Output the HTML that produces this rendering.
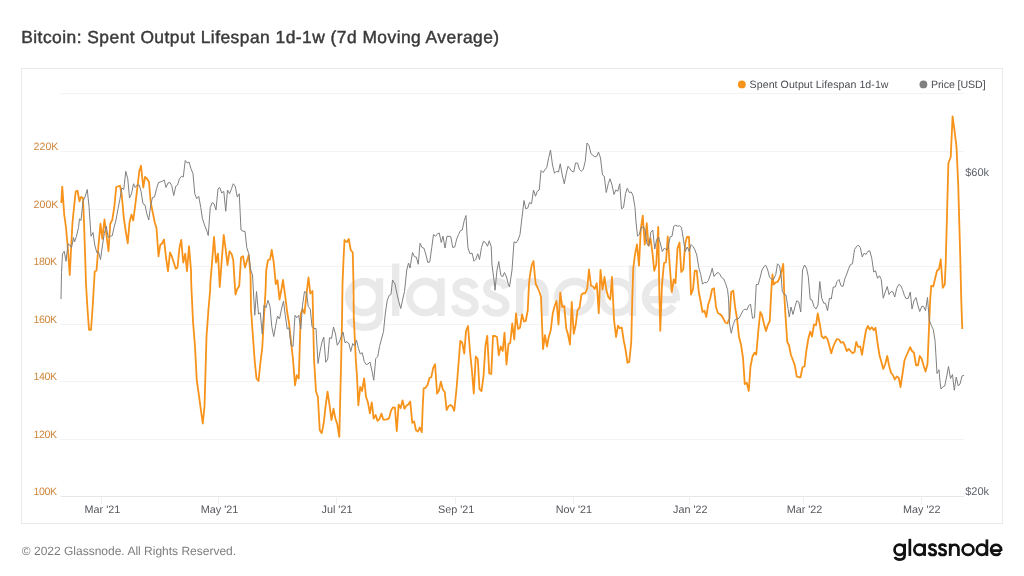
<!DOCTYPE html>
<html><head><meta charset="utf-8"><title>Bitcoin: Spent Output Lifespan 1d-1w</title>
<style>
html,body{margin:0;padding:0;background:#fff;}
body{width:1024px;height:576px;position:relative;overflow:hidden;font-family:"Liberation Sans",sans-serif;}
svg{position:absolute;left:0;top:0;font-family:"Liberation Sans",sans-serif;will-change:transform;}
text{text-rendering:geometricPrecision;}
.title{font-size:17.4px;fill:#3a3a3a;letter-spacing:0.47px;stroke:#3a3a3a;stroke-width:0.45px;}
.yl{font-size:10.6px;fill:#cf873c;}
.yr{font-size:11px;fill:#60636c;}
.xl{font-size:10.8px;fill:#54565c;text-anchor:middle;}
.lg{font-size:10.6px;fill:#4a4c52;}
.foot{font-size:12px;fill:#7c7c7c;}
</style></head><body>
<svg width="1024" height="576" viewBox="0 0 1024 576">
 <rect x="21.5" y="68.5" width="981" height="455" fill="#fff" stroke="#e9e9e9" stroke-width="1"/>
 <g stroke="#f3f3f3" stroke-width="1"><line x1="60.5" x2="964" y1="93.5" y2="93.5"/><line x1="60.5" x2="964" y1="151.5" y2="151.5"/><line x1="60.5" x2="964" y1="209.5" y2="209.5"/><line x1="60.5" x2="964" y1="266.5" y2="266.5"/><line x1="60.5" x2="964" y1="324.5" y2="324.5"/><line x1="60.5" x2="964" y1="381.5" y2="381.5"/><line x1="60.5" x2="964" y1="439.5" y2="439.5"/></g>
 <g stroke="#e6e6e6" stroke-width="1"><line x1="60.5" x2="964" y1="496.5" y2="496.5"/></g>
 <g stroke="#efefef" stroke-width="1"><line x1="101.5" x2="101.5" y1="496.5" y2="504.0"/><line x1="218.5" x2="218.5" y1="496.5" y2="504.0"/><line x1="336.5" x2="336.5" y1="496.5" y2="504.0"/><line x1="455.5" x2="455.5" y1="496.5" y2="504.0"/><line x1="573.5" x2="573.5" y1="496.5" y2="504.0"/><line x1="689.5" x2="689.5" y1="496.5" y2="504.0"/><line x1="803.5" x2="803.5" y1="496.5" y2="504.0"/><line x1="921.5" x2="921.5" y1="496.5" y2="504.0"/></g>
 <g stroke="#e9e9e9" stroke-width="7.3">
<g fill="none" stroke-linecap="butt">
 <ellipse cx="364" cy="297.1" rx="15.5" ry="15.6"/>
 <path d="M379.6,278.3 V314 Q379.6,327.3 364.5,327.3 Q353,327.3 349.3,319.3"/>
 <path d="M395.7,263.5 V316"/>
 <ellipse cx="425.2" cy="297.1" rx="15.7" ry="15.6"/>
 <path d="M441,278.3 V316"/>
 <path transform="translate(1,0)" d="M474.2,288.2 C472.5,283.2 468.5,281.3 464,281.3 C458.5,281.3 455,284.2 455,288.3 C455,293.3 459.5,294.8 464.5,296.4 C469.8,298.1 474.2,300.2 474.2,305.4 C474.2,310.2 470,313.2 464.3,313.2 C458.8,313.2 454.6,310.3 453.4,305.2"/>
 <path transform="translate(31.8,0)" d="M474.2,288.2 C472.5,283.2 468.5,281.3 464,281.3 C458.5,281.3 455,284.2 455,288.3 C455,293.3 459.5,294.8 464.5,296.4 C469.8,298.1 474.2,300.2 474.2,305.4 C474.2,310.2 470,313.2 464.3,313.2 C458.8,313.2 454.6,310.3 453.4,305.2"/>
 <path d="M519.7,278.3 V316"/>
 <path d="M519.7,297 C519.7,286.5 524.5,281.6 532.6,281.6 C540.5,281.6 545,286.3 545,295 V316"/>
 <ellipse cx="574.5" cy="297.1" rx="16.8" ry="15.6"/>
 <ellipse cx="616.9" cy="297.1" rx="15.5" ry="15.6"/>
 <path d="M632.5,265.2 V316"/>
 <path d="M645.6,299.7 H676.2 M676.2,300.8 V297.1 A15.4,15.6 0 1 0 673.6,306"/>
</g></g>
 <path d="M61.3,203 L62.25,186.62 L64.25,215 L66,227.5 L68,250 L69.75,275 L71,250 L72.5,222.5 L74.25,205 L75.75,191.25 L77.5,190.75 L79.5,201.25 L81,197 L83,198 L84,222.5 L85.25,260 L86,284 L87.5,309 L89,329.75 L91,329.75 L92.5,309 L94,284 L94.75,271.25 L96.5,270.75 L98.5,245 L100.5,223.75 L102.25,238.75 L104.5,219.5 L106.75,237.5 L108.5,251.25 L110.25,223.75 L112.25,220 L114.25,207.5 L116.25,187 L120,185.75 L121.75,195 L123.75,217.5 L125.75,231.25 L127.75,243.25 L129.5,222.5 L131.5,214.5 L133.25,220.5 L135.25,205 L137.25,188.75 L139.25,171.25 L141,165.75 L143.25,187.5 L145,177 L147,178.75 L149,182 L150.75,202.5 L152.75,212.5 L154.75,222.5 L156.5,228 L158.5,256.25 L160.25,245 L162.25,243.25 L164,239.5 L166,257.5 L168,271.25 L170,252.5 L171.75,256.25 L173.75,262.5 L175.75,268.75 L177.5,267.5 L179.5,247.5 L181.25,240 L183.25,262.5 L185.25,253.75 L187,271.25 L189,246.25 L191,270 L191.25,284 L193,321.5 L195,346.5 L196.75,380.25 L198.75,394 L200.75,409 L202.75,423.5 L204.5,406.5 L205.5,371.5 L206.5,336.5 L208.5,309 L210.25,289 L210.25,284 L212.25,260 L214,237 L216,262.5 L218,253.75 L219.75,287 L221.75,260 L223.75,235 L225.75,250 L227.5,265 L229.5,251.25 L231.5,253.75 L233.25,260 L234.75,284 L235.5,294.5 L237.25,289 L239.25,286 L241,257.5 L243,256.25 L245,267.5 L248.75,255 L250.5,275 L251,309 L252.75,334 L254.75,361.5 L256.5,378.5 L258.5,381 L260.25,364 L262.25,347.75 L264,316.5 L265.5,291.5 L266.25,270 L268,260 L270,259.5 L271.75,250 L273.75,262.5 L275.75,284 L277.5,280.25 L279.5,299.5 L281.5,289 L283,280 L285.25,296.5 L287.25,312.75 L289,322.75 L291,341.5 L293,359 L295,385.25 L296.75,375.25 L298.75,378.5 L299.75,346.5 L300.75,314 L302.5,309 L304.5,313.5 L306.5,294 L308.5,277.5 L310.25,293.5 L312.5,291 L314,359 L316,391.5 L317.88,396.72 L319.75,430.31 L321.78,433.12 L323.81,422.5 L325.69,405.31 L327.56,391.72 L329.59,405.31 L331.47,420.16 L333.5,408.75 L335.38,418.59 L337.25,424.06 L339.28,436.88 L340.22,399.06 L341.16,360 L342,321.5 L342.5,284 L343.5,260 L344.5,240 L345.5,241.25 L347,242 L348.75,239 L350.75,250 L352.75,252.5 L353.5,284 L353.75,316.5 L355.84,360 L356.94,375.62 L358.34,405.31 L360.22,386.88 L362.09,390.94 L364.12,378.44 L366,396.72 L367.88,402.19 L369.91,413.44 L371.78,402.5 L373.66,418.59 L375.69,415 L377.56,420.94 L379.44,419.06 L381.47,413.59 L383.34,419.69 L385.22,419.69 L387.09,419.38 L389.12,418.12 L391,410.78 L392.88,407.34 L394.91,407.66 L396.78,431.09 L398.66,404.53 L400.69,408.12 L402.56,400.31 L404.44,408.75 L406.47,405.62 L408.34,404.53 L410.22,401.41 L412.25,422.81 L414.12,421.41 L416,430.31 L417.88,431.56 L419.91,427.5 L421.78,432.19 L422.72,406.88 L423.66,388.44 L425.53,387.81 L427.56,385 L429.44,377.97 L431.31,377.19 L433.19,367.81 L435.06,364.22 L437.09,393.59 L438.97,390.47 L440.84,381.56 L442.88,389.69 L444.75,392.03 L446.62,410 L448.66,406.09 L450.53,405 L452.41,406.56 L454.28,410.78 L456.5,389 L458.5,364 L460.25,341 L462.25,342.75 L464.25,353.5 L466,331 L468,326 L470,351.5 L472,371.5 L473.75,393.5 L475.75,356.5 L477.75,359 L479.5,389 L481.5,391 L483.5,376.5 L485.5,345.25 L487.25,336 L489.25,373.5 L491.25,374 L493,336 L495,336 L497,337 L498.75,355.25 L500.75,346.5 L502.75,351 L504.5,332.75 L506.5,364.5 L508.5,344 L510.25,342.75 L512.25,323.5 L514.25,339.5 L516,313.5 L518,329 L520,327.75 L522,314.5 L524,321.5 L525.75,321 L527.75,310.25 L529,284 L530,275 L531.75,265 L533.5,261 L535,277.5 L535.75,284 L537.25,287 L539.25,291.5 L541,297 L543,349 L545,335.25 L547,346.5 L548.75,337 L550.75,330.25 L552.75,313.5 L554.5,306.5 L556.5,301 L558.5,324.5 L560.25,292.75 L562.25,307 L564.25,306 L566.25,328.5 L568,334.5 L570,344.5 L571.75,302 L573.75,333.75 L575.75,324.5 L577.5,310.25 L579.5,307.75 L581.5,294.5 L583.25,293.25 L585.25,293.25 L587.25,288.25 L589,269.5 L591,285.75 L593,286.5 L594.75,289 L596.75,283.25 L598.75,313.25 L600.5,270 L602.5,289.5 L604.5,277 L606.25,289.5 L608.25,297 L610.25,299.5 L612,277 L614,319.5 L616,337 L618,325.75 L619.75,328.25 L621.75,327.5 L623.75,340.75 L625.5,349.5 L627.5,362.75 L629.25,362 L631.25,342 L632.25,299.5 L633.25,268.25 L635,254.5 L637,244.5 L639,265.75 L640.75,229.5 L642.75,215.75 L644.75,244.5 L646.75,223.25 L648.5,245.75 L650.5,238.25 L652.5,253.25 L654.25,270.75 L656.25,264.5 L658.25,227 L659.25,287 L660.25,330.75 L662,284.5 L664,263.25 L666,262 L667.75,236.5 L669.75,265.75 L671.75,292 L673.75,279.5 L675.5,283.25 L677.5,248.25 L679.5,242.5 L681.25,272 L683.25,269.5 L685.25,243.25 L687,237 L689,237 L691,294.5 L693,289.5 L694.75,270.75 L696.75,270.75 L698.75,292 L700.5,300.75 L702.5,312 L704.5,310.75 L706.25,317 L708.25,304.5 L710.25,298.25 L712,289.5 L714,288.25 L716,307 L718,313.25 L719.75,314 L721.75,315.75 L723.75,319.5 L725.5,322.75 L727.5,323.25 L729.5,318.25 L731.25,292 L733.25,290.75 L735.25,308.25 L737,318.25 L739,337 L741,344.5 L743,357.75 L744.75,384 L746.75,382.75 L748.75,391 L750.5,366.5 L752.5,356.5 L754.5,352.75 L756.25,354.5 L758.25,331.5 L760.25,312 L762,315.25 L764,324 L766,331 L767.75,325.25 L769.75,321 L770.75,301.5 L771.75,283.25 L772.5,274.5 L773.5,284.5 L775.5,282.5 L777.5,282 L779.5,278.25 L781.25,272.5 L783.25,264 L784.25,294.5 L785.25,312 L787.25,342 L789,345.25 L791,355.25 L793,360.25 L794.75,365.25 L796.75,376.5 L798.75,377.25 L800.5,377.25 L802.5,367.25 L804.5,366.5 L806.25,351.5 L808.25,339 L810.25,331.5 L812,336.5 L814,324.5 L816,325.25 L817.75,313.5 L819.75,324 L821.75,336.5 L823.75,338.25 L825.5,336.5 L827.5,339 L829.5,346.5 L831.25,353.25 L833.25,346.5 L835.25,342 L837,339 L839,339.5 L841,342.75 L843,342 L844.75,345.25 L846.75,351 L848.75,349 L850.5,351 L852.5,353.25 L854.5,352 L856.25,342 L858.25,347 L860.25,346.5 L862,354.75 L864,342 L866,330.25 L868,326 L869.75,329.5 L871.75,327.25 L873.75,330.25 L875.5,327.75 L877.5,342.75 L879.5,355.25 L881.25,361.5 L883.25,369 L885.25,364 L887.25,356 L889,365.25 L891,372.75 L893,375.25 L894.75,379.5 L896.75,376.5 L898.75,377.75 L900.5,387 L902.5,374 L904.5,360.25 L906.25,356 L908.25,351.5 L910.25,347.25 L912,351 L914,352.75 L916,365.25 L918,365.25 L919.75,356 L921.75,359 L923.5,365.25 L925.5,371.5 L927.5,364 L928.25,346.5 L929.25,321.5 L930.25,299 L931.25,285.75 L933.25,286.5 L935,279 L937,270.75 L939,269 L940.75,259.5 L942.75,287.75 L944.75,284.5 L945.75,262 L948.38,163.28 L950.72,157.03 L952.59,116.41 L954.62,131.25 L956.5,146.88 L958.25,185.75 L960.25,257 L961.25,299.5 L962.25,329" fill="none" stroke="#f7931a" stroke-width="1.8" stroke-linejoin="round"/>
 <path d="M61,299 L61.5,272.5 L62.5,253.75 L64.25,251.25 L66,261.25 L68,243.75 L69.75,245 L71.5,247.5 L73.5,237.5 L74.5,242 L76.5,236.25 L78.5,227.5 L79.5,218.75 L81,220.5 L83,201.25 L85.25,196.25 L87.25,189.5 L89,206.25 L91,236.25 L93,232.5 L94.75,245 L96.75,252.5 L98.5,252 L100.5,259.5 L102.5,245 L104.25,233.75 L106.25,226.25 L108.25,237.5 L110.25,236.25 L112.25,235.75 L114,227.5 L116,220 L118,208.75 L120,198.75 L121.75,188 L123.75,189.5 L125.75,171.25 L127.75,178.75 L129.5,198 L131.5,193.75 L133.5,183.75 L135.25,187.5 L137.25,185 L139.25,185 L141,191.25 L143,203.75 L145,205 L146.75,213.75 L148.75,220 L150.75,205 L152.5,197.5 L154.5,197 L156.5,188.75 L158.5,182.5 L160.25,182 L162.25,181.25 L164.25,180 L166,187.5 L168,183 L170,182.5 L171.75,185.75 L173.75,195.5 L175.75,186.25 L177.5,185 L179.5,178.75 L181.5,176.25 L183.25,177 L185.25,160.5 L187.25,163 L189,162 L191,168.75 L193,173.75 L194.75,193.75 L196.75,198.75 L198.75,196.25 L200.75,207.5 L202.5,218.75 L204.5,225 L206.5,230 L208.25,235.5 L210.25,207.5 L212.25,202.5 L214,203.75 L216,210 L218,188.75 L219.75,187.5 L221.75,193 L223.75,191.25 L225.75,211.25 L227.5,190 L229.5,193.75 L231.5,188.75 L233.25,183.75 L235.25,186.25 L237.25,197 L239.25,193.75 L241,230 L243,231.25 L245,231.25 L246.75,247.5 L248.75,253.75 L250.75,270 L252.5,275 L254.75,315.25 L256.5,291.5 L258.5,314 L260.25,312.75 L262.25,334 L264,305.25 L266,307.75 L268,300.25 L270,306.5 L271.75,326.5 L273.75,336.5 L275.75,325.25 L277.5,316 L279.5,319 L281.5,309 L283.5,301 L285.25,315.25 L287.25,329 L289,327.75 L291,345.25 L293,346.5 L295,315.25 L296.75,317.75 L298.75,315.25 L300.75,329 L302.5,305.25 L304.5,291.5 L306.5,292.75 L308.25,306.5 L310.25,309 L312,326.5 L314,328.5 L316,328.5 L318,363.5 L320,351.5 L322,342 L323.75,337 L325.75,362.25 L327.75,359 L329.5,337.75 L331.5,338.5 L333.5,327 L335.5,334 L337.25,345.25 L339.25,342 L341.25,336.5 L343,332 L345,342.75 L347,341.5 L349,344 L350.75,351.5 L352.75,343.5 L354.75,346 L356.5,340.25 L358.5,348.5 L360.25,354 L362.25,352.75 L364.25,361.5 L366.25,364.5 L368,364 L370,362 L372,371 L373.75,380.25 L375.75,358.5 L377.75,356.5 L379.5,346.5 L381.5,339 L383.5,331.5 L385.25,314 L387.25,300.25 L389.25,295.25 L391,294.5 L392.5,280 L395,284 L397,294 L398.75,301.5 L400.75,308.5 L402.75,299 L404.5,291.5 L406.75,270 L408.5,263 L410,268 L412.5,252.5 L414.5,256.75 L416.25,257 L418.25,264.25 L420,243.25 L422,247.5 L424,248.25 L426,255 L427.75,262.5 L429.75,262 L431.75,247.5 L433.5,234.5 L435.5,236.25 L437.5,233.75 L439.25,233 L441.25,242.5 L443,236.25 L445,248 L447,236.25 L449,236.25 L450.75,236.75 L452.75,247.5 L454.75,247 L456.75,238.75 L458.5,234.5 L460.5,230.5 L462.25,230 L464.25,220.5 L466,215.5 L467,235 L468,248 L470,253.75 L472,253 L474,261.25 L475.75,259.5 L477.75,253.75 L479.5,259.5 L481.5,247.5 L483.5,241.25 L485.5,242.5 L487.5,246.25 L489.25,240.75 L491.25,247 L492,265 L494.5,284 L495,290.25 L497,270 L498.75,261.5 L500.75,275 L502.5,277 L504.5,272.5 L506.5,277 L508.25,284 L509.5,287 L512,270 L514,241.75 L516,243 L518,240 L520,234.5 L522,217.5 L524,200.5 L525.75,208.75 L527.75,208 L529.5,202.5 L531.5,203.75 L533.5,190 L535.5,196.25 L537.25,191.25 L539.25,190 L541,170.5 L543,172.5 L544.75,170 L546.75,167.5 L548.75,157.5 L550.5,150 L552.5,165 L554.5,173.25 L556.5,171.25 L558.5,172 L560.25,163.75 L562.25,175 L564.25,183.75 L566.25,173.75 L568,166.25 L570,168.75 L571.75,171.25 L573.75,172 L575.5,163 L577.5,163 L579.5,169.5 L581.25,171.25 L583.25,169.5 L585.25,161.25 L587,143 L589,145.5 L591,153.75 L592.75,155 L594.75,157 L596.75,156.25 L598.5,152 L600.5,158 L602.5,175 L604.25,176.25 L606.25,192.5 L608.25,183.75 L610,178.75 L612,185 L614,194.5 L615.75,190 L617.75,191.25 L619.75,183.75 L621.5,208.75 L623.5,207.5 L625.5,193.75 L627.25,188.25 L629.25,192.5 L631.25,192 L633,195.5 L635,207.5 L636,222 L637.5,236.25 L639.25,234.5 L641.25,227.5 L643.25,227 L645,230 L647,244 L649,245.75 L650.75,232.5 L652.75,230 L654.75,249 L656.5,240 L658.5,237 L660.5,244 L662.25,251.5 L664.25,248.25 L666.25,249.5 L668,249 L670,237 L672,236.25 L673.75,226.25 L675.75,225.25 L677.75,226.25 L679.5,225.75 L681.5,227.5 L683.5,240 L685.25,251.5 L687.25,247 L689.25,251.5 L691,244.5 L693,246.5 L695,250 L696.75,255 L698.75,267.5 L700.75,274.5 L702.5,284 L704.5,282.5 L706.5,282.75 L708.25,280.75 L710.25,275.25 L712.25,268.25 L714,276.5 L716,273.75 L718,272.5 L719.75,274 L721.75,277.75 L723.75,279 L725.5,283.25 L727.5,289.5 L728.5,298.25 L729.5,324 L731.25,333.25 L733.25,324.5 L735.25,319.5 L737,319 L739,318.25 L741,314.5 L743,310.75 L744.75,309 L746.75,310 L748.75,305.75 L750.5,304 L752.5,318.25 L754.5,317.5 L756.25,284.5 L758.25,284.5 L760.25,277 L762,270 L764,266.5 L765.75,265.25 L767.75,270 L769.5,277 L771.75,279.5 L773.75,279 L775.75,274.5 L777.5,263.75 L779.5,265.75 L781.25,277 L782.25,291.5 L784.25,294.5 L786,295 L788,308.25 L789.25,317 L791,307 L793,314.5 L795,306.5 L796.75,300.75 L798.75,302 L800.75,312 L802.5,270 L804.5,265 L806.5,268.25 L808.25,276.5 L810.25,299.5 L812,300 L814,306.5 L816,309 L818,305 L819.75,281.5 L821.75,298.25 L823.75,303.25 L825.5,303.25 L827.5,310.75 L829.5,298.25 L831.25,299 L833.25,287 L835.25,287 L837,281.5 L839,279.5 L841,285.75 L843,286.5 L844.75,279 L846.75,274 L848.75,268.25 L850.5,264.5 L852.5,263.75 L854.5,249.5 L856.25,247 L858.25,245 L860.25,247.5 L862.25,257 L864,253.25 L866,254.5 L868,251.25 L869.75,250.75 L871.75,258.25 L873.75,272 L875.5,270.75 L877.5,278.25 L879.5,275.75 L881.25,279.5 L883.25,298.25 L885.25,292 L887.25,286.5 L889,294.5 L891,291.5 L893,292 L894.75,297 L896.75,288.25 L898.75,284.5 L900.5,285.25 L902.5,289.5 L904.5,295.75 L906.25,298.75 L908.25,298.25 L910.25,292 L912,309 L914,300.75 L916,297.5 L917.75,305 L919.75,311.5 L921.75,306.5 L923.5,306.25 L925.5,310.75 L927.5,297.5 L929.25,320.25 L931.25,325.25 L933.25,329.5 L935,340.25 L936,356.5 L937,373.5 L939,369.75 L940,381.5 L941,389 L942.75,387 L944.75,386 L946.75,376 L948.5,366.5 L950.5,378.5 L952.5,374.5 L954.25,390.25 L956.25,377 L958.25,386 L960,384 L962,376 L964,375.25" fill="none" stroke="#808080" stroke-width="1" stroke-linejoin="round"/>
 <circle cx="741.85" cy="84.4" r="3.9" fill="#f7931a"/>
 <circle cx="923.4" cy="84.4" r="3.9" fill="#808080"/>
 <g stroke="#111" stroke-width="8.3" transform="translate(781.1,453.1) scale(0.3254)">
<g fill="none" stroke-linecap="butt">
 <ellipse cx="364" cy="297.1" rx="15.5" ry="15.6"/>
 <path d="M379.6,278.3 V314 Q379.6,327.3 364.5,327.3 Q353,327.3 349.3,319.3"/>
 <path d="M395.7,263.5 V316"/>
 <ellipse cx="425.2" cy="297.1" rx="15.7" ry="15.6"/>
 <path d="M441,278.3 V316"/>
 <path transform="translate(1,0)" d="M474.2,288.2 C472.5,283.2 468.5,281.3 464,281.3 C458.5,281.3 455,284.2 455,288.3 C455,293.3 459.5,294.8 464.5,296.4 C469.8,298.1 474.2,300.2 474.2,305.4 C474.2,310.2 470,313.2 464.3,313.2 C458.8,313.2 454.6,310.3 453.4,305.2"/>
 <path transform="translate(31.8,0)" d="M474.2,288.2 C472.5,283.2 468.5,281.3 464,281.3 C458.5,281.3 455,284.2 455,288.3 C455,293.3 459.5,294.8 464.5,296.4 C469.8,298.1 474.2,300.2 474.2,305.4 C474.2,310.2 470,313.2 464.3,313.2 C458.8,313.2 454.6,310.3 453.4,305.2"/>
 <path d="M519.7,278.3 V316"/>
 <path d="M519.7,297 C519.7,286.5 524.5,281.6 532.6,281.6 C540.5,281.6 545,286.3 545,295 V316"/>
 <ellipse cx="574.5" cy="297.1" rx="16.8" ry="15.6"/>
 <ellipse cx="616.9" cy="297.1" rx="15.5" ry="15.6"/>
 <path d="M632.5,265.2 V316"/>
 <path d="M645.6,299.7 H676.2 M676.2,300.8 V297.1 A15.4,15.6 0 1 0 673.6,306"/>
</g></g>
 <text class="title" x="21.2" y="42.5">Bitcoin: Spent Output Lifespan 1d-1w (7d Moving Average)</text>
 <g class="yl"><text x="33.6" y="149.6">220K</text><text x="33.6" y="207.6">200K</text><text x="33.6" y="264.6" letter-spacing="-0.42">180K</text><text x="33.6" y="322.6" letter-spacing="-0.42">160K</text><text x="33.6" y="379.6" letter-spacing="-0.42">140K</text><text x="33.6" y="437.6" letter-spacing="-0.42">120K</text><text x="33.6" y="494.6" letter-spacing="-0.42">100K</text></g>
 <g class="yr"><text x="965.2" y="176.2">$60k</text><text x="965.2" y="494.9">$20k</text></g>
 <g class="xl"><text x="102.4" y="513.2">Mar '21</text><text x="219.6" y="513.2">May '21</text><text x="337.0" y="513.2">Jul '21</text><text x="456.09999999999997" y="513.2">Sep '21</text><text x="573.9000000000001" y="513.2">Nov '21</text><text x="690.3000000000001" y="513.2">Jan '22</text><text x="804.5" y="513.2">Mar '22</text><text x="921.8000000000001" y="513.2">May '22</text></g>
 <g class="lg"><text x="749.6" y="88.1" letter-spacing="0.065">Spent Output Lifespan 1d-1w</text><text x="930.9" y="88.1" letter-spacing="-0.06">Price [USD]</text></g>
 <text class="foot" x="21.8" y="554.8">© 2022 Glassnode. All Rights Reserved.</text>
</svg>
</body></html>
